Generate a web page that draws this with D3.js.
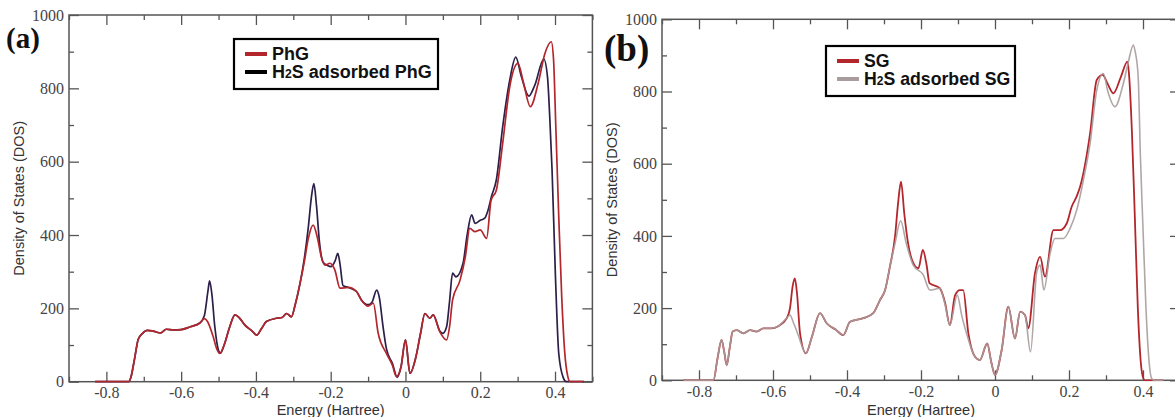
<!DOCTYPE html>
<html>
<head>
<meta charset="utf-8">
<script src="https://cdn.jsdelivr.net/npm/d3@7"></script>
<style>
  html, body { margin: 0; padding: 0; background: #fff; }
  svg { display: block; }
</style>
</head>
<body>
<svg id="chart" width="1175" height="417"></svg>
<script>
// ---------------- DATA ----------------
const xMajorTicks = [-0.8, -0.6, -0.4, -0.2, 0, 0.2, 0.4];
const xMinorTicks = [-0.9, -0.7, -0.5, -0.3, -0.1, 0.1, 0.3, 0.5];
const yMajorTicks = [0, 200, 400, 600, 800, 1000];
const yMinorTicks = [100, 300, 500, 700, 900];

// Panel (a): PhG
const energyPhG = [-0.83,-0.74,-0.735,-0.725,-0.715,-0.705,-0.69,-0.675,-0.655,-0.64,-0.62,-0.6,-0.575,-0.55,-0.538,-0.53,-0.515,-0.505,-0.497,-0.485,-0.47,-0.456,-0.445,-0.43,-0.41,-0.398,-0.385,-0.372,-0.345,-0.33,-0.318,-0.305,-0.295,-0.282,-0.27,-0.26,-0.247,-0.235,-0.225,-0.215,-0.202,-0.189,-0.175,-0.153,-0.131,-0.118,-0.1,-0.086,-0.073,-0.051,-0.035,-0.024,-0.012,0.0,0.012,0.028,0.04,0.052,0.065,0.074,0.092,0.11,0.118,0.126,0.146,0.16,0.172,0.186,0.2,0.217,0.229,0.243,0.26,0.279,0.301,0.315,0.334,0.355,0.373,0.39,0.396,0.402,0.41,0.418,0.426,0.434,0.44,0.477];
const dosPhG    = [0,0,10,60,115,130,140,138,133,143,141,142,150,160,172,165,125,90,77,100,150,182,175,155,138,127,145,164,173,175,186,177,210,268,330,390,427,390,340,318,323,305,255,257,246,223,206,214,132,77,45,14,40,114,23,68,130,186,173,182,136,114,150,223,277,340,418,409,414,391,495,522,650,805,868,818,750,814,895,927,880,700,450,230,80,15,0,0];

// Panel (a): H2S adsorbed PhG
const energyH2SPhG = [-0.83,-0.74,-0.735,-0.725,-0.715,-0.705,-0.69,-0.675,-0.655,-0.64,-0.62,-0.6,-0.575,-0.55,-0.538,-0.528,-0.524,-0.518,-0.51,-0.5,-0.495,-0.485,-0.47,-0.456,-0.445,-0.43,-0.41,-0.398,-0.385,-0.372,-0.345,-0.33,-0.318,-0.305,-0.295,-0.282,-0.27,-0.26,-0.252,-0.245,-0.238,-0.23,-0.22,-0.21,-0.199,-0.188,-0.181,-0.175,-0.167,-0.153,-0.131,-0.118,-0.1,-0.09,-0.077,-0.07,-0.06,-0.051,-0.035,-0.022,-0.012,0.0,0.012,0.028,0.04,0.052,0.065,0.074,0.092,0.1,0.11,0.118,0.126,0.135,0.154,0.165,0.177,0.186,0.2,0.212,0.22,0.23,0.243,0.26,0.279,0.295,0.31,0.33,0.346,0.37,0.38,0.386,0.392,0.401,0.41,0.422,0.43,0.477];
const dosH2SPhG    = [0,0,10,60,115,130,140,138,133,143,141,142,150,160,180,250,275,240,150,85,78,100,150,182,175,155,138,127,145,164,173,175,186,177,210,268,340,420,500,540,480,380,325,318,314,330,350,320,262,257,246,223,210,216,250,230,150,90,50,12,40,114,23,68,130,186,173,182,138,132,150,220,296,286,323,400,455,432,440,446,465,505,550,695,823,885,832,779,809,880,830,720,580,292,77,11,0,0];

// Panel (b): SG
const energySG = [-0.842,-0.761,-0.75,-0.739,-0.732,-0.725,-0.717,-0.709,-0.698,-0.68,-0.662,-0.644,-0.626,-0.604,-0.586,-0.563,-0.554,-0.547,-0.541,-0.535,-0.527,-0.511,-0.495,-0.473,-0.455,-0.43,-0.41,-0.392,-0.356,-0.329,-0.311,-0.297,-0.284,-0.27,-0.262,-0.254,-0.245,-0.235,-0.221,-0.207,-0.195,-0.185,-0.177,-0.149,-0.135,-0.122,-0.108,-0.095,-0.086,-0.072,-0.054,-0.041,-0.021,-0.01,0.0,0.018,0.036,0.054,0.068,0.081,0.09,0.108,0.122,0.135,0.158,0.176,0.194,0.207,0.221,0.23,0.257,0.275,0.291,0.305,0.32,0.34,0.358,0.362,0.37,0.378,0.386,0.394,0.401,0.405,0.455];
const dosSG    = [0,0,60,112,80,42,90,135,139,130,139,135,144,144,150,172,200,260,282,240,131,75,120,186,158,140,125,162,172,186,222,250,315,400,490,550,460,380,325,310,361,320,269,255,215,153,235,250,250,130,65,56,102,50,15,84,204,116,190,181,144,296,342,287,416,416,435,480,510,536,684,832,846,820,795,840,883,850,690,450,200,50,5,0,0];

// Panel (b): H2S adsorbed SG
const energyH2SSG = [-0.842,-0.761,-0.75,-0.739,-0.732,-0.725,-0.717,-0.709,-0.698,-0.68,-0.662,-0.644,-0.626,-0.604,-0.586,-0.563,-0.554,-0.545,-0.53,-0.52,-0.511,-0.495,-0.473,-0.455,-0.43,-0.41,-0.392,-0.356,-0.329,-0.311,-0.297,-0.284,-0.27,-0.255,-0.24,-0.221,-0.194,-0.176,-0.149,-0.135,-0.122,-0.102,-0.09,-0.077,-0.054,-0.041,-0.021,-0.01,0.0,0.018,0.036,0.054,0.068,0.081,0.096,0.113,0.122,0.132,0.149,0.162,0.185,0.203,0.221,0.24,0.257,0.275,0.293,0.305,0.324,0.347,0.36,0.374,0.379,0.387,0.393,0.4,0.408,0.415,0.423,0.43,0.455];
const dosH2SSG    = [0,0,60,112,80,42,90,135,139,130,139,135,144,144,150,172,181,160,120,90,75,120,186,158,140,125,162,172,186,222,250,315,380,442,380,319,292,250,255,210,153,236,180,130,65,56,102,50,15,84,204,116,190,181,79,301,319,250,352,393,393,421,472,560,656,804,850,800,758,823,880,929,910,840,620,420,200,70,6,0,0];

// ---------------- DRAWING ----------------
const svg = d3.select("#chart");
const serif = "'Liberation Serif', 'Times New Roman', serif";
const sans = "'Liberation Sans', Arial, sans-serif";

function drawPanel(cfg) {
  const x = d3.scaleLinear().domain([-0.9, 0.5]).range([cfg.left, cfg.right]);
  const y = d3.scaleLinear().domain([0, 1000]).range([cfg.bottom, cfg.top]);
  const g = svg.append("g");

  const clipId = "clip-" + cfg.id;
  svg.append("clipPath").attr("id", clipId)
    .append("rect").attr("x", cfg.left).attr("y", cfg.top - 5)
    .attr("width", cfg.right - cfg.left).attr("height", cfg.bottom - cfg.top + 6);

  function addAxis(axisGen, tx, ty, ticks, size, labels) {
    const a = axisGen.tickValues(ticks).tickSizeInner(size).tickSizeOuter(0).tickPadding(5);
    if (!labels) a.tickFormat("");
    else a.tickFormat(d => String(d));
    const ag = g.append("g").attr("transform", `translate(${tx},${ty})`).call(a);
    ag.select(".domain").remove();
    ag.selectAll("line").attr("stroke", "#555").attr("stroke-width", 1.3);
    ag.selectAll("text").attr("font-family", serif).attr("font-size", 16).attr("fill", "#444");
    return ag;
  }
  addAxis(d3.axisBottom(x), 0, cfg.bottom, xMajorTicks, -10, true);
  addAxis(d3.axisBottom(x), 0, cfg.bottom, xMinorTicks, -5, false);
  addAxis(d3.axisTop(x), 0, cfg.top, xMajorTicks, -10, false);
  addAxis(d3.axisTop(x), 0, cfg.top, xMinorTicks, -5, false);
  addAxis(d3.axisLeft(y), cfg.left, 0, yMajorTicks, -10, true);
  addAxis(d3.axisLeft(y), cfg.left, 0, yMinorTicks, -5, false);
  addAxis(d3.axisRight(y), cfg.right, 0, yMajorTicks, -10, false);
  addAxis(d3.axisRight(y), cfg.right, 0, yMinorTicks, -5, false);

  g.append("rect").attr("x", cfg.left).attr("y", cfg.top)
    .attr("width", cfg.right - cfg.left).attr("height", cfg.bottom - cfg.top)
    .attr("fill", "none").attr("stroke", "#555").attr("stroke-width", 1.5);

  const line = d3.line().x(d => x(d[0])).y(d => y(d[1])).curve(d3.curveMonotoneX);
  const cg = g.append("g").attr("clip-path", `url(#${clipId})`);
  cfg.series.forEach(s => {
    const pts = s.e.map((e, i) => [e, s.v[i]]);
    cg.append("path").datum(pts).attr("d", line)
      .attr("fill", "none").attr("stroke", s.color).attr("stroke-width", s.width)
      .attr("stroke-linejoin", "round").attr("opacity", s.opacity || 1);
  });

  g.append("text")
    .attr("transform", `translate(${cfg.yTitleX},${(cfg.top + cfg.bottom) / 2}) rotate(-90)`)
    .attr("text-anchor", "middle").attr("font-family", sans).attr("font-size", 14.5)
    .attr("fill", "#333").text("Density of States (DOS)");
  g.append("text")
    .attr("x", (cfg.left + cfg.right) / 2).attr("y", 415)
    .attr("text-anchor", "middle").attr("font-family", sans).attr("font-size", 14.5)
    .attr("fill", "#333").text("Energy (Hartree)");

  g.append("text").attr("x", cfg.labelX).attr("y", cfg.labelY)
    .attr("font-family", serif).attr("font-weight", "bold")
    .attr("font-size", cfg.labelSize).attr("fill", "#111").text(cfg.label);

  const L = cfg.legend;
  g.append("rect").attr("x", L.x).attr("y", L.y).attr("width", L.w).attr("height", L.h)
    .attr("fill", "#fff").attr("stroke", "#000").attr("stroke-width", 2.2);
  L.items.forEach((it, i) => {
    const yy = L.y + L.row0 + i * L.rowGap;
    g.append("line").attr("x1", L.x + 11).attr("x2", L.x + 33).attr("y1", yy).attr("y2", yy)
      .attr("stroke", it.color).attr("stroke-width", 4);
    const t = g.append("text").attr("x", L.x + 38).attr("y", yy + 6)
      .attr("font-family", sans).attr("font-weight", "bold").attr("font-size", L.fs).attr("fill", "#111");
    it.parts.forEach(p => {
      const ts = t.append("tspan").text(p.t);
      if (p.small) ts.attr("font-size", L.fs * 0.68);
    });
  });
}

drawPanel({
  id: "a", left: 69, right: 592.4, top: 15, bottom: 381.7,
  yTitleX: 24, label: "(a)", labelX: 6, labelY: 48, labelSize: 29,
  series: [
    { e: energyH2SPhG, v: dosH2SPhG, color: "#2c1f48", width: 1.7 },
    { e: energyPhG, v: dosPhG, color: "#b3262c", width: 1.7 }
  ],
  legend: { x: 234, y: 39, w: 204, h: 50, row0: 15, rowGap: 18, fs: 18,
    items: [
      { color: "#b3262c", parts: [{ t: "PhG" }] },
      { color: "#000", parts: [{ t: "H" }, { t: "2", small: true }, { t: "S adsorbed PhG" }] }
    ] }
});

drawPanel({
  id: "b", left: 662, right: 1180, top: 19.3, bottom: 380.3,
  yTitleX: 617, label: "(b)", labelX: 604, labelY: 61, labelSize: 37,
  series: [
    { e: energySG, v: dosSG, color: "#b3262c", width: 1.8 },
    { e: energyH2SSG, v: dosH2SSG, color: "#a89c9c", width: 1.6, opacity: 0.9 }
  ],
  legend: { x: 826, y: 46, w: 189, h: 50, row0: 15, rowGap: 18, fs: 17.7,
    items: [
      { color: "#b3262c", parts: [{ t: "SG" }] },
      { color: "#a89c9c", parts: [{ t: "H" }, { t: "2", small: true }, { t: "S adsorbed SG" }] }
    ] }
});
</script>
</body>
</html>
